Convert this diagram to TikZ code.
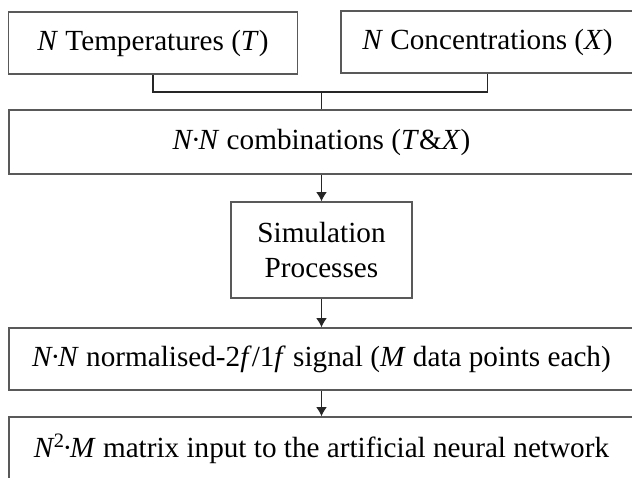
\documentclass[tikz,border=0pt]{standalone}
\usepackage{fontspec}
\setmainfont{Liberation Serif}
\usetikzlibrary{arrows.meta, positioning}

\newcommand{\cdotsep}{\kern-0.08em·\kern-0.08em}

\begin{document}
\begin{tikzpicture}[x=0.5pt, y=-0.5pt,
    box/.style={draw=black!65, line width=0.75pt, inner sep=0pt, align=center,
        font=\fontsize{14.6}{17.5}\selectfont},
    link/.style={draw=black!85, line width=0.6pt},
    flow/.style={link, -{Latex[length=4.6pt, width=5.4pt]}}]
            \useasboundingbox (0,0) rectangle (632,477);

            % input boxes
            \node[box, minimum width=144.5pt, minimum height=31pt] (temp) at (153,43)
                {\textit{N} Temperatures (\textit{T})};
            \node[box, minimum width=146.5pt, minimum height=31pt] (conc) at (487.5,42)
                {\textit{N} Concentrations (\textit{X})};

            % flow boxes
            \node[box, minimum width=312.5pt, minimum height=32pt] (comb) at (321.5,142)
                {\textit{N}\cdotsep\textit{N} combinations (\textit{T}\&\textit{X})};
            \node[box, minimum width=90.5pt, minimum height=48pt] (sim) at (321.5,250)
                {Simulation\\Processes};
            \node[box, minimum width=312.5pt, minimum height=31pt] (sig) at (321.5,359)
                {\textit{N}\cdotsep\textit{N} normalised-2\textit{f}/1\textit{f} signal (\textit{M} data points each)};
            \node[box, minimum width=312.5pt, minimum height=32pt] (mat) at (321.5,449)
                {\textit{N}\textsuperscript{\kern-0.05em 2}\cdotsep\textit{M} matrix input to the artificial neural network};

            % joining the two inputs
            \coordinate (join) at (comb.north |- 0,92);
            \draw[link] (temp.south) |- (join) -| (conc.south);
            \draw[link] (join) -- (comb.north);

            \draw[flow] (comb) -- (sim);
            \draw[flow] (sim) -- (sig);
            \draw[flow] (sig) -- (mat);

\end{tikzpicture}
\end{document}
